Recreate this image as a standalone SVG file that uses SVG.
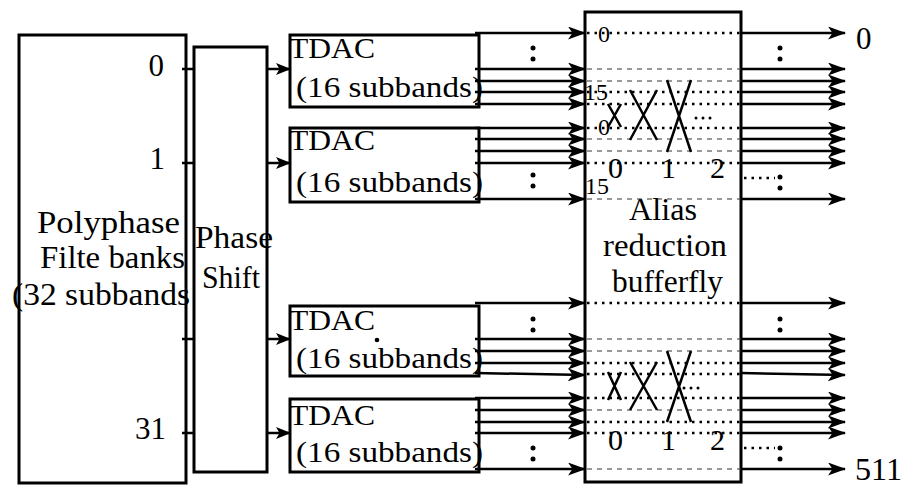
<svg xmlns="http://www.w3.org/2000/svg" width="905" height="489" viewBox="0 0 905 489">
<defs>
<marker id="ah" markerUnits="userSpaceOnUse" markerWidth="18" markerHeight="13" refX="17" refY="6.5" orient="auto">
<path d="M0,0 L18,6.5 L0,13 L4.5,6.5 z" fill="#000"/>
</marker>
<marker id="ahs" markerUnits="userSpaceOnUse" markerWidth="15" markerHeight="12" refX="14" refY="6" orient="auto">
<path d="M0,0 L15,6 L0,12 L3.5,6 z" fill="#000"/>
</marker>
</defs>
<style>
.box{fill:#fff;stroke:#000;stroke-width:3}
.t{font-family:"Liberation Serif","Times New Roman",serif;fill:#000}
.big{font-size:31px}
.mid{font-size:30px}
.sm{font-size:24px}
.ln{stroke:#000;stroke-width:2.5;fill:none}
.arr{stroke:#000;stroke-width:2.5;fill:none;marker-end:url(#ah)}
.arrs{stroke:#000;stroke-width:2.5;fill:none;marker-end:url(#ahs)}
.bd{stroke:#000;stroke-width:2.5;stroke-dasharray:2.5 5;fill:none}
.td{stroke:#333;stroke-width:1;stroke-dasharray:5 5;fill:none}
.x{stroke:#000;stroke-width:2.5;fill:none}
</style>

<g id="polyphase">
<rect class="box" x="19" y="35" width="167" height="448"/>
<text class="t big" x="37" y="233" textLength="143" lengthAdjust="spacingAndGlyphs">Polyphase</text>
<text class="t big" x="40" y="268" textLength="145" lengthAdjust="spacingAndGlyphs">Filte banks</text>
<text class="t big" x="12" y="305" textLength="178" lengthAdjust="spacingAndGlyphs">(32 subbands</text>
<text class="t big" x="164" y="76" text-anchor="end">0</text>
<text class="t big" x="165" y="169" text-anchor="end">1</text>
<text class="t big" x="166" y="439" text-anchor="end">31</text>
</g>

<g id="phaseshift">
<rect class="box" x="194" y="47" width="73" height="425"/>
<text class="t big" x="195" y="248" textLength="78" lengthAdjust="spacingAndGlyphs">Phase</text>
<text class="t big" x="202" y="288" textLength="58" lengthAdjust="spacingAndGlyphs">Shift</text>
</g>

<g id="tdac1">
<rect class="box" x="290" y="35" width="189" height="72"/>
<text class="t mid" x="289" y="58" textLength="86" lengthAdjust="spacingAndGlyphs">TDAC</text>
<text class="t mid" x="296" y="97" textLength="187" lengthAdjust="spacingAndGlyphs">(16 subbands)</text>
</g>
<g id="tdac2">
<rect class="box" x="290" y="128" width="189" height="74"/>
<text class="t mid" x="289" y="150" textLength="86" lengthAdjust="spacingAndGlyphs">TDAC</text>
<text class="t mid" x="296" y="192" textLength="187" lengthAdjust="spacingAndGlyphs">(16 subbands)</text>
</g>
<g id="tdac3">
<rect class="box" x="290" y="306" width="189" height="70"/>
<text class="t mid" x="289" y="330" textLength="86" lengthAdjust="spacingAndGlyphs">TDAC</text>
<text class="t mid" x="296" y="368" textLength="187" lengthAdjust="spacingAndGlyphs">(16 subbands)</text>
<circle cx="377" cy="340" r="2.3" fill="#000"/>
</g>
<g id="tdac4">
<rect class="box" x="290" y="399" width="189" height="73"/>
<text class="t mid" x="289" y="425" textLength="86" lengthAdjust="spacingAndGlyphs">TDAC</text>
<text class="t mid" x="296" y="462" textLength="187" lengthAdjust="spacingAndGlyphs">(16 subbands)</text>
</g>

<g id="alias">
<rect class="box" x="585" y="12" width="156" height="470"/>
<text class="t big" x="629" y="220" textLength="68" lengthAdjust="spacingAndGlyphs">Alias</text>
<text class="t big" x="603" y="256" textLength="124" lengthAdjust="spacingAndGlyphs">reduction</text>
<text class="t big" x="612" y="292" textLength="111" lengthAdjust="spacingAndGlyphs">bufferfly</text>
<line class="bd" x1="587" y1="33" x2="741" y2="33"/>
<line class="td" x1="587" y1="69" x2="741" y2="69"/>
<line class="td" x1="587" y1="81" x2="741" y2="81"/>
<line class="bd" x1="587" y1="92" x2="741" y2="92"/>
<line class="bd" x1="587" y1="104" x2="741" y2="104"/>
<line class="bd" x1="587" y1="128" x2="741" y2="128"/>
<line class="td" x1="587" y1="139" x2="741" y2="139"/>
<line class="td" x1="587" y1="151" x2="741" y2="151"/>
<line class="bd" x1="587" y1="163" x2="741" y2="163"/>
<line class="td" x1="587" y1="199" x2="741" y2="199"/>
<line class="bd" x1="587" y1="303" x2="741" y2="303"/>
<line class="td" x1="587" y1="339" x2="741" y2="339"/>
<line class="td" x1="587" y1="351" x2="741" y2="351"/>
<line class="bd" x1="587" y1="363" x2="741" y2="363"/>
<line class="bd" x1="587" y1="374" x2="741" y2="374"/>
<line class="bd" x1="587" y1="398" x2="741" y2="398"/>
<line class="td" x1="587" y1="410" x2="741" y2="410"/>
<line class="bd" x1="587" y1="422" x2="741" y2="422"/>
<line class="bd" x1="587" y1="433" x2="741" y2="433"/>
<line class="td" x1="587" y1="469" x2="741" y2="469"/>
<text class="t sm" x="598" y="42">0</text>
<text class="t sm" x="584" y="100">15</text>
<text class="t sm" x="598" y="135">0</text>
<text class="t sm" x="585" y="194">15</text>
<text class="t mid" x="608" y="178">0</text>
<text class="t mid" x="661" y="178">1</text>
<text class="t mid" x="710" y="178">2</text>
<text class="t mid" x="608" y="450">0</text>
<text class="t mid" x="661" y="450">1</text>
<text class="t mid" x="710" y="450">2</text>
<path class="x" d="M608,104 L621,127 M621,104 L608,127"/>
<path class="x" d="M630,90 L657,140 M657,90 L630,140"/>
<path class="x" d="M667,80 L691,152 M691,80 L667,152"/>
<circle cx="696" cy="118" r="1.5"/><circle cx="703" cy="118" r="1.5"/><circle cx="710" cy="118" r="1.5"/>
<path class="x" d="M608,372 L621,400 M621,372 L608,400"/>
<path class="x" d="M630,362 L657,410 M657,362 L630,410"/>
<path class="x" d="M667,351 L691,422 M691,351 L667,422"/>
<circle cx="684" cy="388" r="1.5"/><circle cx="691" cy="388" r="1.5"/><circle cx="698" cy="388" r="1.5"/>
</g>

<g id="outputs">
<text class="t big" x="856" y="49">0</text>
<text class="t big" x="855" y="480" textLength="47" lengthAdjust="spacingAndGlyphs">511</text>
</g>

<g id="connectors">
<line class="ln" x1="182" y1="69" x2="194" y2="69"/>
<line class="ln" x1="182" y1="163" x2="194" y2="163"/>
<line class="ln" x1="182" y1="339" x2="194" y2="339"/>
<line class="ln" x1="182" y1="433" x2="194" y2="433"/>
<line class="arrs" x1="267" y1="69" x2="290" y2="69"/>
<line class="arrs" x1="267" y1="163" x2="290" y2="163"/>
<line class="arrs" x1="267" y1="339" x2="290" y2="339"/>
<line class="arrs" x1="267" y1="433" x2="290" y2="433"/>
<line class="arr" x1="475" y1="33" x2="585" y2="33"/>
<line class="arr" x1="475" y1="69" x2="585" y2="69"/>
<line class="arr" x1="475" y1="81" x2="585" y2="81"/>
<line class="arr" x1="475" y1="92" x2="585" y2="92"/>
<line class="arr" x1="475" y1="104" x2="585" y2="104"/>
<line class="arr" x1="475" y1="128" x2="585" y2="128"/>
<line class="arr" x1="475" y1="139" x2="585" y2="139"/>
<line class="arr" x1="475" y1="151" x2="585" y2="151"/>
<line class="arr" x1="475" y1="163" x2="585" y2="163"/>
<line class="arr" x1="475" y1="199" x2="585" y2="199"/>
<line class="arr" x1="475" y1="303" x2="585" y2="303"/>
<line class="arr" x1="475" y1="339" x2="585" y2="339"/>
<line class="arr" x1="475" y1="351" x2="585" y2="351"/>
<line class="arr" x1="475" y1="363" x2="585" y2="363"/>
<line class="arr" x1="475" y1="373" x2="585" y2="375"/>
<line class="arr" x1="475" y1="398" x2="585" y2="398"/>
<line class="arr" x1="475" y1="410" x2="585" y2="410"/>
<line class="arr" x1="475" y1="422" x2="585" y2="422"/>
<line class="arr" x1="475" y1="433" x2="585" y2="433"/>
<line class="arr" x1="475" y1="469" x2="585" y2="469"/>
<line class="arr" x1="741" y1="33" x2="845" y2="33"/>
<line class="arr" x1="741" y1="69" x2="845" y2="69"/>
<line class="arr" x1="741" y1="81" x2="845" y2="81"/>
<line class="arr" x1="741" y1="92" x2="845" y2="92"/>
<line class="arr" x1="741" y1="104" x2="845" y2="104"/>
<line class="arr" x1="741" y1="128" x2="845" y2="128"/>
<line class="arr" x1="741" y1="139" x2="845" y2="139"/>
<line class="arr" x1="741" y1="151" x2="845" y2="151"/>
<line class="arr" x1="741" y1="163" x2="845" y2="163"/>
<line class="arr" x1="741" y1="199" x2="845" y2="199"/>
<line class="arr" x1="741" y1="303" x2="845" y2="303"/>
<line class="arr" x1="741" y1="339" x2="845" y2="339"/>
<line class="arr" x1="741" y1="351" x2="845" y2="351"/>
<line class="arr" x1="741" y1="363" x2="845" y2="363"/>
<line class="arr" x1="741" y1="373" x2="845" y2="375"/>
<line class="arr" x1="741" y1="398" x2="845" y2="398"/>
<line class="arr" x1="741" y1="410" x2="845" y2="410"/>
<line class="arr" x1="741" y1="422" x2="845" y2="422"/>
<line class="arr" x1="741" y1="433" x2="845" y2="433"/>
<line class="arr" x1="741" y1="469" x2="845" y2="469"/>
<line class="bd" x1="744" y1="178" x2="775" y2="178"/>
<line class="bd" x1="744" y1="448" x2="775" y2="448"/>
</g>

<g id="ellipses" fill="#000">
<circle cx="533" cy="48" r="2.5"/><circle cx="533" cy="59" r="2.5"/>
<circle cx="533" cy="175" r="2.5"/><circle cx="533" cy="186" r="2.5"/>
<circle cx="533" cy="319" r="2.5"/><circle cx="533" cy="330" r="2.5"/>
<circle cx="533" cy="448" r="2.5"/><circle cx="533" cy="459" r="2.5"/>
<circle cx="780" cy="48" r="2.5"/><circle cx="780" cy="59" r="2.5"/>
<circle cx="780" cy="177" r="2.5"/><circle cx="780" cy="188" r="2.5"/>
<circle cx="780" cy="319" r="2.5"/><circle cx="780" cy="330" r="2.5"/>
<circle cx="780" cy="448" r="2.5"/><circle cx="780" cy="459" r="2.5"/>
</g>
</svg>
